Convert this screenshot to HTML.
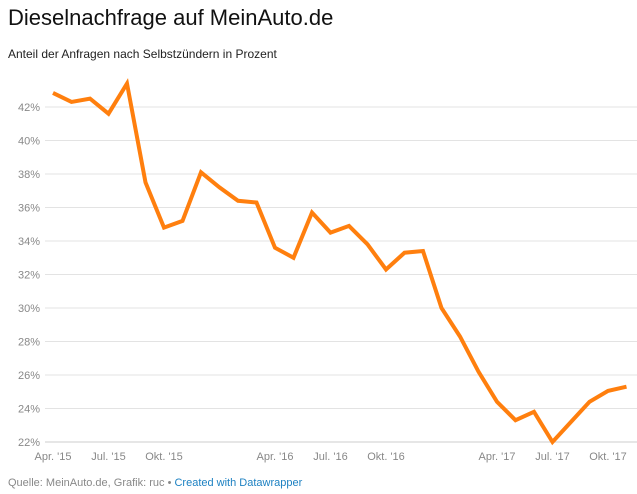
<!DOCTYPE html>
<html><head><meta charset="utf-8"><style>
body{margin:0;background:#fff;font-family:"Liberation Sans",Arial,sans-serif;width:637px;height:494px;overflow:hidden;position:relative}
#title{position:absolute;left:8px;top:5px;font-size:22px;color:#111}
#sub{position:absolute;left:8px;top:47px;font-size:12px;color:#222}
#foot{position:absolute;left:8px;top:477px;font-size:11px;color:#888}
#foot a{color:#1d81c2;text-decoration:none}
svg{position:absolute;left:0;top:0}
</style></head><body>
<div id="title">Dieselnachfrage auf MeinAuto.de</div>
<div id="sub">Anteil der Anfragen nach Selbstzündern in Prozent</div>
<svg id="chart" width="637" height="494"></svg>
<div id="foot">Quelle: MeinAuto.de, Grafik: ruc • <a>Created with Datawrapper</a></div>
<script>
const values=[42.84,42.3,42.5,41.6,43.4,37.5,34.8,35.2,38.1,37.2,36.4,36.3,33.6,33.0,35.7,34.5,34.9,33.8,32.3,33.3,33.4,30.0,28.3,26.2,24.4,23.3,23.8,22.0,23.2,24.4,25.05,25.3];
const yTicks=[22,24,26,28,30,32,34,36,38,40,42];
const xTickLabels=["Apr. '15","Jul. '15","Okt. '15","Apr. '16","Jul. '16","Okt. '16","Apr. '17","Jul. '17","Okt. '17"];
const xTickIndex=[0,3,6,12,15,18,24,27,30];
const NS="http://www.w3.org/2000/svg",svg=document.getElementById('chart');
const x=i=>53+i*18.5, y=v=>442-(v-22)*16.75;
function mk(t,a){const e=document.createElementNS(NS,t);for(const k in a)e.setAttribute(k,a[k]);svg.appendChild(e);return e;}
yTicks.forEach(v=>{
 const l=mk('line',{x1:45,x2:637,y1:y(v),y2:y(v),stroke:v===22?'#ccc':'#e3e3e3','stroke-width':1});
 
 
 const t=mk('text',{x:40,y:y(v)+4,'text-anchor':'end','font-size':11,fill:'#888','font-family':'Liberation Sans, sans-serif'});
 t.textContent=v+'%';
 
 
});
xTickLabels.forEach((s,k)=>{
 const t=mk('text',{x:x(xTickIndex[k]),y:460,'text-anchor':'middle','font-size':11,fill:'#888','font-family':'Liberation Sans, sans-serif'});
 t.textContent=s;
 
 
});
const p=mk('polyline',{points:values.map((v,i)=>x(i)+','+y(v)).join(' '),fill:'none',stroke:'#ff7f0e','stroke-width':4,'stroke-linejoin':'miter'});


</script>
</body></html>
